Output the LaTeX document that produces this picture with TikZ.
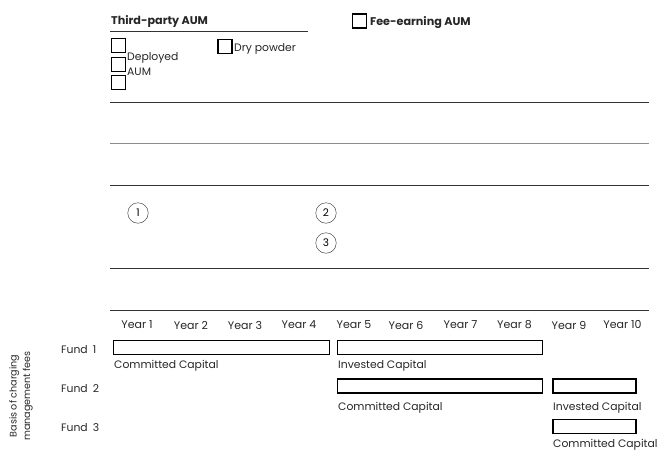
\documentclass[tikz,border=0pt]{standalone}
\usepackage{fontspec}
\setmainfont{Poppins}
\begin{document}
\begin{tikzpicture}[x=1pt,y=-1pt,
  txt/.style={inner sep=0pt, anchor=west, yshift=-1.5pt, font=\fontsize{10.8}{13}\selectfont, text=black!85},
  head/.style={inner sep=0pt, anchor=west, yshift=-1.5pt, font=\fontsize{11.2}{13}\selectfont\bfseries, text=black!85},
  chk/.style={draw=black, line width=1.3pt, minimum width=14pt, minimum height=14pt, inner sep=0pt},
  rule/.style={draw=black!80, line width=1pt},
  lrule/.style={draw=black!45, line width=1.2pt},
  num/.style={draw=black!85, circle, minimum size=20.5pt, inner sep=0pt, font=\fontsize{10.5}{12}\selectfont},
  yr/.style={inner sep=0pt, yshift=-1pt, font=\fontsize{11}{13}\selectfont, text=black!85},
  fbar/.style={draw=black, line width=1.2pt, minimum height=14pt, inner sep=0pt}
]
\useasboundingbox (0,0) rectangle (658,450);

% header
\node[head] (tp) at (111,20) {Third-party AUM};
\coordinate (u1) at (110,31);
\coordinate (u2) at (308,31);
\draw[rule] (u1) -- (u2);

\node[chk] (c1) at (118.5,45.8) {};
\node[chk] (c2) at (118.5,64.2) {};
\node[chk] (c3) at (118.5,82.6) {};
\node[txt] (dep) at (127,56) {Deployed};
\node[txt] (aum) at (127,70) {AUM};

\node[chk] (c4) at (225,46.5) {};
\node[txt] (dry) at (234,47) {Dry powder};

\node[chk] (c5) at (359.5,21) {};
\node[head] (fe) at (370,21) {Fee-earning AUM};

% horizontal rules
\coordinate (l1a) at (110,102.3); \coordinate (l1b) at (649,102.3);
\coordinate (l2a) at (110,143.7); \coordinate (l2b) at (649,143.7);
\coordinate (l3a) at (110,185.7); \coordinate (l3b) at (649,185.7);
\coordinate (l4a) at (110,268.3); \coordinate (l4b) at (649,268.3);
\coordinate (l5a) at (110,310);   \coordinate (l5b) at (649,310);
\draw[rule] (l1a) -- (l1b);
\draw[lrule] (l2a) -- (l2b);
\draw[rule] (l3a) -- (l3b);
\draw[rule] (l4a) -- (l4b);
\draw[rule] (l5a) -- (l5b);

% numbered circles
\node[num] (n1) at (138,213) {1};
\node[num] (n2) at (326,213) {2};
\node[num] (n3) at (326,243) {3};

% years
\node[yr] (y1) at (137,324) {Year 1};
\node[yr] (y2) at (191,324) {Year 2};
\node[yr] (y3) at (245,324) {Year 3};
\node[yr] (y4) at (299,324) {Year 4};
\node[yr] (y5) at (354,324) {Year 5};
\node[yr] (y6) at (406,324) {Year 6};
\node[yr] (y7) at (460.5,324) {Year 7};
\node[yr] (y8) at (514.5,324) {Year 8};
\node[yr] (y9) at (569,324) {Year 9};
\node[yr] (y10) at (622.5,324) {Year 10};

% side label
\node[inner sep=0pt, rotate=90, align=center, font=\fontsize{9.6}{13.5}\selectfont, text=black!85] (basis) at (21,396) {Basis of charging\\management fees};

% fund labels
\node[txt] (f1) at (61,348) {Fund\hspace{5pt}1};
\node[txt] (f2) at (61,387) {Fund\hspace{5pt}2};
\node[txt] (f3) at (61,426) {Fund\hspace{5pt}3};

% bars
\node[fbar, minimum width=216pt] (b11) at (221.8,347.2) {};
\node[txt] (t11) at (114,364) {Committed Capital};
\node[fbar, minimum width=205pt] (b12) at (440,347.5) {};
\node[txt] (t12) at (338,364) {Invested Capital};

\node[fbar, minimum width=205pt] (b21) at (440,386) {};
\node[txt] (t21) at (338,406) {Committed Capital};
\node[fbar, minimum width=83pt] (b22) at (594.4,386) {};
\node[txt] (t22) at (553,406) {Invested Capital};

\node[fbar, minimum width=83pt] (b31) at (594.4,426.5) {};
\node[txt] (t31) at (553,443.5) {Committed Capital};
\end{tikzpicture}
\end{document}
